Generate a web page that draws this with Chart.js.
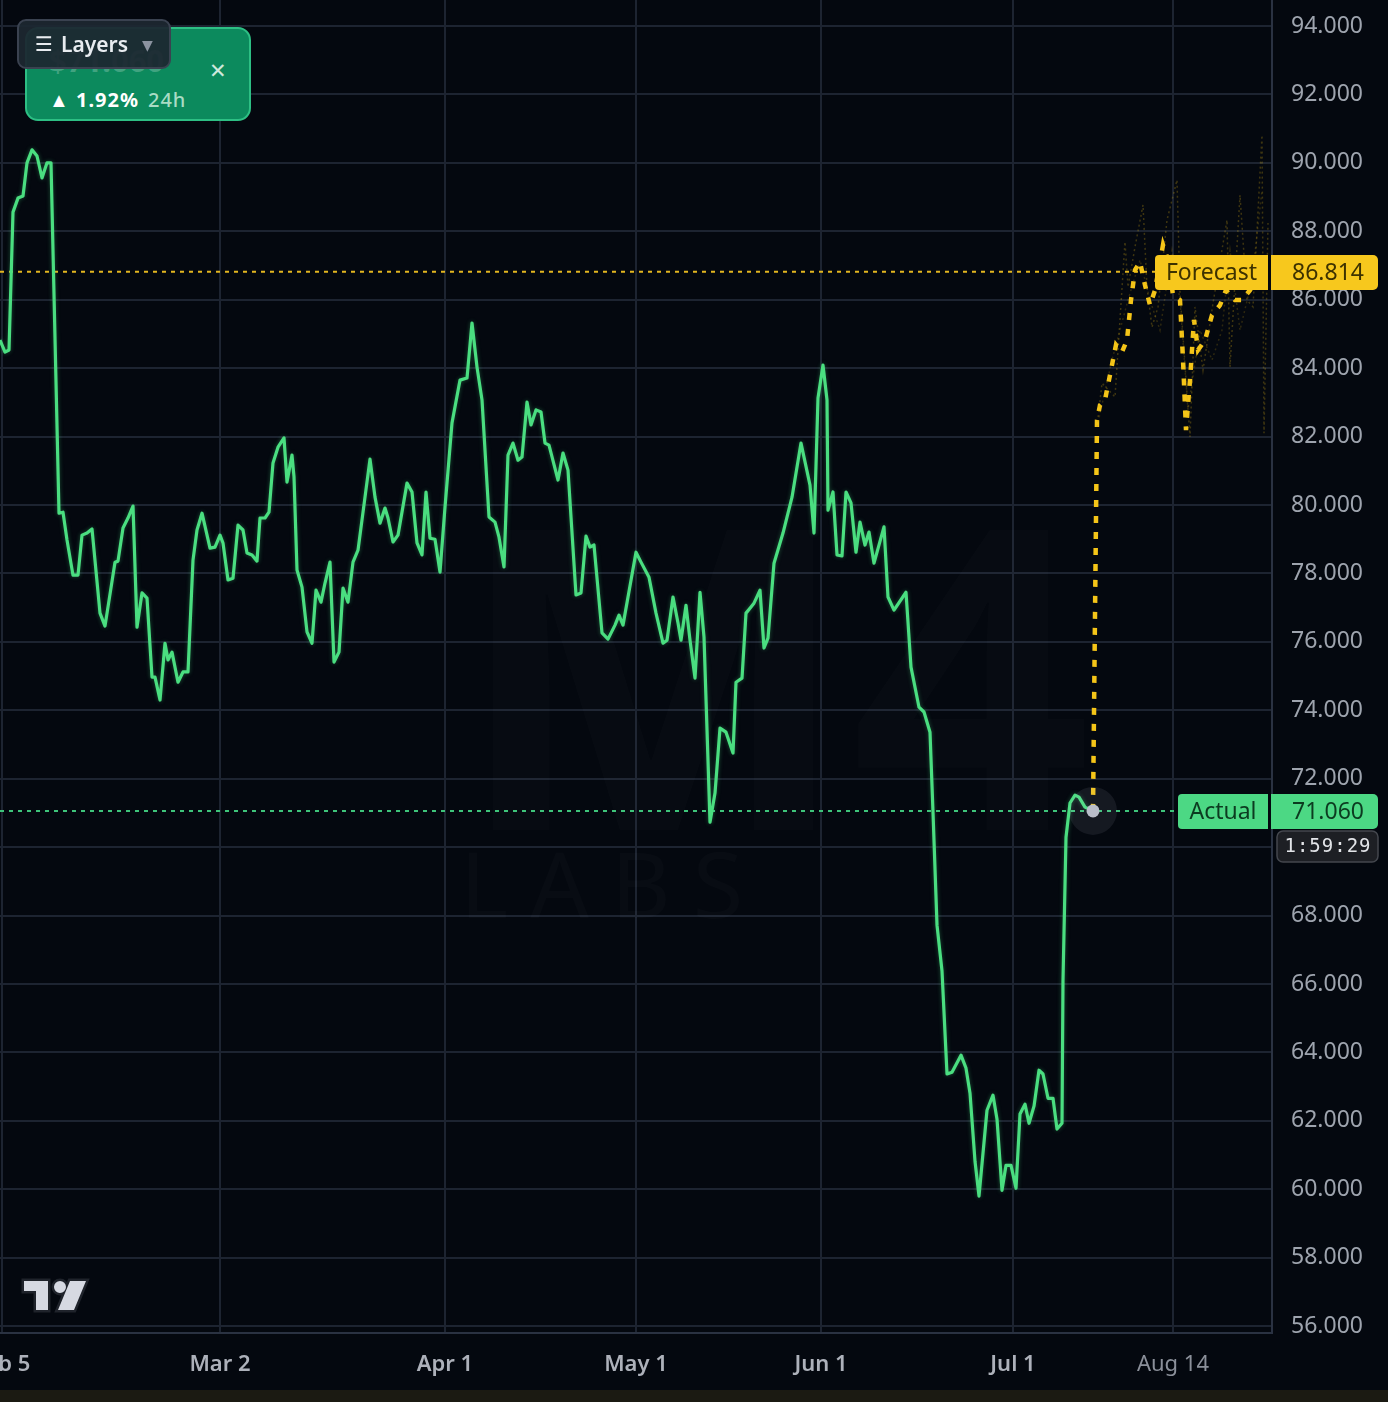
<!DOCTYPE html>
<html>
<head>
<meta charset="utf-8">
<title>Actual vs Forecast</title>
<script src="https://cdn.jsdelivr.net/npm/chart.js@4.4.1/dist/chart.umd.min.js"></script>
<style>
    body { margin: 0; background: #04080f; overflow: hidden; font-family: 'Noto Sans', sans-serif; }
    #wrap { position: relative; width: 1388px; height: 1402px; }
    #price_chart { position: absolute; left: 0; top: 0; }
    .card {
        position: absolute; left: 25px; top: 27px; width: 222px; height: 90px;
        background: #0c8a5d; border: 2px solid #2dbf84; border-radius: 13px;
    }
    .card .price { position: absolute; left: 22px; top: 10px; font-size: 31px; font-weight: 700; color: rgba(255,255,255,0.22); }
    .card .close { position: absolute; left: 182px; top: 32px; font-size: 21px; color: #cfe8dc; line-height: 1; font-family: 'DejaVu Sans', sans-serif; }
    .card .change { position: absolute; left: 22px; top: 57px; font-size: 20px; font-weight: 700; color: #ffffff; letter-spacing: 1px; }
    .card .change span { font-weight: 500; color: #a9dcc5; margin-left: 9px; }
    .layers {
        position: absolute; left: 17px; top: 19px; width: 150px; height: 46px;
        background: rgba(29, 39, 49, 0.94); border: 2px solid #3a4250; border-radius: 9px;
        color: #e8ecf0; font-size: 21px; font-weight: 600; line-height: 46px;
    }
    .layers .burger { position: absolute; left: 16px; top: 0; font-family: 'DejaVu Sans', sans-serif; font-size: 20px; }
    .layers .txt { position: absolute; left: 42px; top: 0; }
    .layers .arrow { position: absolute; left: 123px; top: 1px; font-size: 14px; color: #8b93a0; font-family: 'DejaVu Sans', sans-serif; }
</style>
</head>
<body>
<div id="wrap">
    <canvas id="price_chart" width="1388" height="1402"></canvas>
    <div class="card">
        <div class="price">$71.060</div>
        <div class="close">✕</div>
        <div class="change">▲ 1.92%<span>24h</span></div>
    </div>
    <div class="layers"><span class="burger">☰</span><span class="txt">Layers</span><span class="arrow">▼</span></div>
</div>
<script>
// x positions are bar indexes (one bar = one step of the time axis)
const tickIdx = [0.4, 44, 89, 127.2, 164.2, 202.6, 234.6];
const tickLabels = ['Feb 5', 'Mar 2', 'Apr 1', 'May 1', 'Jun 1', 'Jul 1', 'Aug 14'];
const priceTicks = [56, 58, 60, 62, 64, 66, 68, 70, 72, 74, 76, 78, 80, 82, 84, 86, 88, 90, 92, 94];

const actualIdx = [0, 1, 1.8, 2.6, 3.6, 4.6, 5.4, 6.4, 7.4, 8.4, 9.4, 10.2, 11.8, 12.6, 13.4, 14.6, 15.6, 16.4, 17.4, 18.4,
    20, 21, 23, 23.6, 24.6, 25.6, 26.6, 27.4, 28.4, 29.4, 30.4, 31, 32, 33, 33.6, 34.4, 35.6, 36.6, 37.6, 38.6,
    39.4, 40.4, 42, 43, 44, 44.6, 45.6, 46.6, 47.6, 48.6, 49.4, 50.4, 51.4, 52, 53, 53.8, 54.6, 55.6, 56.8, 57.4,
    58.4, 58.8, 59.4, 60.4, 61.4, 62.4, 63.2, 64.2, 65, 66, 66.8, 67.8, 68.6, 69.6, 70.6, 71.6, 73, 74, 75, 76,
    77, 77.6, 78.6, 79.6, 81.4, 82.4, 83.4, 84.4, 85.2, 86, 87, 88, 89, 90.4, 92, 93.4, 94.4, 95.4, 96.4, 97.8,
    99, 99.8, 100.8, 101.6, 102.6, 103.6, 104.4, 105.4, 106.2, 107.2, 108.2, 109, 109.8, 111.6, 112.6, 113.6, 115.2, 116.2, 117.2, 118,
    118.8, 120.4, 121.6, 123, 123.8, 124.6, 127.2, 128.2, 129.8, 131.2, 132.6, 133.4, 134.6, 135.6, 136.2, 137.2, 138, 139, 140, 140.8,
    142, 143, 144, 145.2, 146.6, 147.2, 148.4, 149.2, 150.2, 150.8, 152, 152.8, 153.6, 154.8, 156.6, 158.4, 160.2, 162, 162.8, 163.6,
    164.6, 165.4, 165.6, 166.6, 167.4, 168.4, 169.2, 170.2, 171.2, 172, 173, 173.8, 174.8, 176.8, 177.6, 178.8, 181.2, 182.2, 183.8, 184.8,
    186, 186.6, 187.4, 188.4, 189.4, 190.4, 192.2, 193.2, 194, 195, 195.8, 197.4, 198.6, 199.4, 200.4, 201.2, 202.2, 203.2, 204, 205,
    205.8, 206.8, 207.8, 208.6, 209.6, 210.6, 211.4, 212.4, 212.6, 213.2, 214, 215, 215.8, 217, 218.6];
const actualVal = [84.82, 84.47, 84.53, 88.56, 88.97, 89.03, 90.00, 90.38, 90.20, 89.56, 90.00, 90.00, 79.76, 79.79, 78.98, 77.95, 77.95, 79.12, 79.18, 79.30,
    76.84, 76.46, 78.33, 78.36, 79.33, 79.62, 79.97, 76.43, 77.43, 77.28, 74.97, 74.97, 74.30, 75.96, 75.47, 75.70, 74.82, 75.12, 75.12, 78.39,
    79.27, 79.76, 78.74, 78.77, 79.12, 78.89, 77.81, 77.86, 79.41, 79.27, 78.60, 78.54, 78.36, 79.62, 79.62, 79.79, 81.23, 81.69, 81.96, 80.67,
    81.46, 80.82, 78.10, 77.60, 76.29, 75.96, 77.51, 77.16, 77.72, 78.33, 75.41, 75.70, 77.57, 77.16, 78.33, 78.68, 80.23, 81.34, 80.23, 79.47,
    79.91, 79.62, 78.92, 79.12, 80.64, 80.38, 78.89, 78.54, 80.38, 79.03, 79.00, 78.04, 79.94, 82.40, 83.65, 83.71, 85.32, 84.03, 83.07, 79.65,
    79.50, 79.06, 78.19, 81.46, 81.81, 81.31, 81.40, 83.01, 82.34, 82.78, 82.72, 81.81, 81.75, 80.73, 81.52, 81.02, 77.37, 77.43, 79.09, 78.77,
    78.83, 76.26, 76.08, 76.49, 76.78, 76.49, 78.62, 78.33, 77.89, 76.84, 75.96, 76.05, 77.31, 76.55, 76.05, 77.07, 76.05, 74.94, 77.45, 76.14,
    70.73, 71.58, 73.48, 73.36, 72.75, 74.82, 74.94, 76.84, 77.02, 77.13, 77.51, 75.82, 76.11, 78.30, 79.18, 80.23, 81.81, 80.58, 79.18, 83.13,
    84.09, 83.07, 79.85, 80.38, 78.54, 78.51, 80.38, 80.06, 78.62, 79.50, 78.83, 79.21, 78.30, 79.36, 77.31, 76.93, 77.45, 75.26, 74.09, 73.95,
    73.36, 71.02, 67.72, 66.38, 63.37, 63.42, 63.92, 63.54, 62.81, 60.82, 59.80, 62.31, 62.75, 62.05, 59.97, 60.70, 60.70, 60.03, 62.20, 62.49,
    61.93, 62.43, 63.48, 63.37, 62.66, 62.66, 61.76, 61.93, 66.11, 70.29, 71.29, 71.52, 71.46, 71.17, 71.06];

const forecastIdx = [218.6, 219.4, 220, 221, 222, 223.2, 224.4, 225.4, 226.2, 227, 228, 229, 230, 231, 232.6, 233.6, 234.6, 236, 236.6, 237.2,
    238, 238.8, 239.6, 241, 242.4, 244, 245.2, 247, 248.4, 250, 252];
const forecastVal = [71.06, 82.48, 82.92, 83.07, 83.80, 84.68, 84.47, 84.82, 85.99, 86.87, 87.10, 86.43, 85.84, 86.28, 87.60, 87.16, 86.14, 85.99, 84.24, 82.19,
    83.65, 85.41, 84.53, 84.82, 85.55, 85.84, 86.28, 85.99, 85.99, 86.28, 86.81];

const altAIdx = [219.4, 220.4, 223, 225, 225.6, 227, 228.6, 229.4, 230.4, 231.6, 233.4, 235.4, 236, 238, 239, 240.6, 242.6, 245.4, 246, 248,
    249.4, 250.6, 252.4, 252.8, 253.6];
const altAVal = [82.28, 83.56, 83.16, 87.69, 86.37, 87.54, 88.77, 86.37, 85.20, 85.79, 88.33, 89.50, 86.20, 81.99, 85.79, 83.94, 85.90, 88.33, 84.03, 89.06,
    85.99, 85.79, 90.81, 82.10, 88.24];
const altBIdx = [219.4, 222.4, 225.6, 228, 230, 232, 234.4, 236, 237.6, 240, 242.4, 244.4, 246, 248, 250.4, 252.4];
const altBVal = [82.28, 84.24, 85.99, 87.16, 85.99, 85.11, 87.45, 85.99, 82.78, 85.11, 84.24, 85.11, 87.45, 85.11, 86.58, 89.21];

const actualLast = 71.060;
const forecastLast = 86.814;
const countdown = '1:59:29';

function toPoints(xs, ys) {
    return xs.map((x, i) => ({ x: x, y: ys[i] }));
}

function roundRect(ctx, x, y, w, h, r) {
    ctx.beginPath();
    ctx.roundRect(x, y, w, h, r);
    ctx.fill();
}

function priceTag(ctx, y, name, value, bg, fg, nameLeft) {
    let top = Math.round(y - 17);
    ctx.fillStyle = bg;
    roundRect(ctx, nameLeft, top, 1268 - nameLeft, 35, [4, 0, 0, 4]);
    roundRect(ctx, 1271, top, 107, 35, [0, 5, 5, 0]);
    ctx.fillStyle = fg;
    ctx.font = '23px "Noto Sans"';
    ctx.textBaseline = 'middle';
    ctx.textAlign = 'center';
    ctx.fillText(name, (nameLeft + 1268) / 2, top + 18);
    ctx.fillText(value.toFixed(3), 1328, top + 18);
}

const overlay = {
    id: 'overlay',
    beforeDraw(chart) {
        let ctx = chart.ctx;
        ctx.save();
        ctx.fillStyle = '#04080f';
        ctx.fillRect(0, 0, chart.width, chart.height);
        ctx.fillStyle = '#1b1a12';
        ctx.fillRect(0, 1390, chart.width, 12);
        ctx.restore();
    },
    beforeDatasetsDraw(chart) {
        let ctx = chart.ctx;
        let y = chart.scales.y;
        ctx.save();
        // faint watermark
        ctx.fillStyle = 'rgba(255,255,255,0.014)';
        ctx.font = 'bold 420px "Noto Sans"';
        ctx.textBaseline = 'alphabetic';
        ctx.fillText('M4', 455, 830);
        ctx.fillStyle = 'rgba(255,255,255,0.02)';
        ctx.font = '92px "Noto Sans"';
        ctx.letterSpacing = '22px';
        ctx.fillText('LABS', 460, 918);
        ctx.letterSpacing = '0px';
        // last value lines
        ctx.lineWidth = 2;
        ctx.setLineDash([4, 5]);
        ctx.strokeStyle = '#e3b620';
        let yf = y.getPixelForValue(forecastLast);
        ctx.beginPath();
        ctx.moveTo(0, yf);
        ctx.lineTo(1155, yf);
        ctx.stroke();
        ctx.strokeStyle = '#3ec47a';
        let ya = y.getPixelForValue(actualLast);
        ctx.beginPath();
        ctx.moveTo(0, ya);
        ctx.lineTo(1178, ya);
        ctx.stroke();
        ctx.restore();
    },
    beforeDatasetDraw(chart, args) {
        if (args.meta.label === 'Actual') {
            chart.ctx.save();
            chart.ctx.shadowColor = 'rgba(74, 222, 128, 0.35)';
            chart.ctx.shadowBlur = 4;
        }
    },
    afterDatasetDraw(chart, args) {
        if (args.meta.label === 'Actual') {
            chart.ctx.restore();
        }
    },
    afterDraw(chart) {
        let ctx = chart.ctx;
        let x = chart.scales.x;
        let y = chart.scales.y;
        ctx.save();
        // end point marker
        let px = x.getPixelForValue(actualIdx[actualIdx.length - 1]);
        let py = y.getPixelForValue(actualLast);
        ctx.fillStyle = 'rgba(200,205,220,0.09)';
        ctx.beginPath();
        ctx.arc(px, py, 24, 0, Math.PI * 2);
        ctx.fill();
        ctx.fillStyle = '#b9bdc9';
        ctx.beginPath();
        ctx.arc(px, py, 6.5, 0, Math.PI * 2);
        ctx.fill();

        priceTag(ctx, y.getPixelForValue(forecastLast), 'Forecast', forecastLast, '#f7c81d', '#3d3200', 1155);
        priceTag(ctx, y.getPixelForValue(actualLast), 'Actual', actualLast, '#4cd884', '#0c3b20', 1178);

        // countdown
        let ty = Math.round(y.getPixelForValue(actualLast)) + 20;
        ctx.fillStyle = '#1d1f24';
        ctx.strokeStyle = '#44474e';
        ctx.lineWidth = 1.5;
        ctx.beginPath();
        ctx.roundRect(1277, ty, 101, 31, 6);
        ctx.fill();
        ctx.stroke();
        ctx.fillStyle = '#e2e4e8';
        ctx.font = '19px "DejaVu Sans Mono"';
        ctx.letterSpacing = '1px';
        ctx.textAlign = 'center';
        ctx.textBaseline = 'middle';
        ctx.fillText(countdown, 1328, ty + 16);
        ctx.letterSpacing = '0px';

        // TradingView logo
        ctx.beginPath();
        ctx.rect(24, 1281, 24, 10);
        ctx.rect(36, 1281, 12, 29);
        ctx.moveTo(66, 1287);
        ctx.arc(60, 1287, 6, 0, Math.PI * 2);
        ctx.moveTo(70, 1281);
        ctx.lineTo(86, 1281);
        ctx.lineTo(74, 1310);
        ctx.lineTo(58, 1310);
        ctx.closePath();
        ctx.strokeStyle = '#1f232b';
        ctx.lineWidth = 5;
        ctx.stroke();
        ctx.fillStyle = '#d6d9e2';
        ctx.fill();
        ctx.restore();
    }
};

let canvas = document.querySelector('#price_chart');
new Chart(canvas, {
    type: 'line',
    data: {
        datasets: [{
            label: 'Alt forecast A',
            data: toPoints(altAIdx, altAVal),
            borderColor: 'rgba(214, 172, 22, 0.28)',
            borderWidth: 1.5,
            borderDash: [2, 3],
            pointRadius: 0
        }, {
            label: 'Alt forecast B',
            data: toPoints(altBIdx, altBVal),
            borderColor: 'rgba(214, 172, 22, 0.2)',
            borderWidth: 1.5,
            borderDash: [2, 3],
            pointRadius: 0
        }, {
            label: 'Forecast',
            data: toPoints(forecastIdx, forecastVal),
            borderColor: '#f5c518',
            borderWidth: 4.5,
            borderDash: [7, 9],
            pointRadius: 0
        }, {
            label: 'Actual',
            data: toPoints(actualIdx, actualVal),
            borderColor: '#4ade80',
            borderWidth: 3.2,
            pointRadius: 0,
            borderJoinStyle: 'round'
        }]
    },
    options: {
        responsive: false,
        animation: false,
        devicePixelRatio: 1,
        layout: { padding: 0 },
        plugins: {
            legend: { display: false },
            tooltip: { enabled: false }
        },
        scales: {
            x: {
                type: 'linear',
                position: 'bottom',
                min: 0,
                max: 254.4,
                afterBuildTicks: (scale) => {
                    scale.ticks = tickIdx.map(v => ({ value: v }));
                },
                afterFit: (scale) => {
                    scale.height = 69;
                    scale.paddingLeft = 0;
                    scale.paddingRight = 0;
                },
                grid: { color: '#1d2431', lineWidth: 2, drawTicks: false },
                border: { color: '#2a3242', width: 2 },
                ticks: {
                    autoSkip: false,
                    maxRotation: 0,
                    padding: 19,
                    callback: (value, index) => tickLabels[index],
                    color: (ctx) => ctx.index === 6 ? '#8b909a' : '#adb1ba',
                    font: (ctx) => ({ family: 'Noto Sans', size: 22, weight: ctx.index === 6 ? 'normal' : '600' })
                }
            },
            y: {
                type: 'linear',
                position: 'right',
                min: 55.8,
                max: 94.76,
                afterBuildTicks: (scale) => {
                    scale.ticks = priceTicks.map(v => ({ value: v }));
                },
                afterFit: (scale) => {
                    scale.width = 116;
                    scale.paddingTop = 0;
                    scale.paddingBottom = 0;
                },
                grid: { color: '#1d2431', lineWidth: 2, drawTicks: false },
                border: { color: '#2a3242', width: 2 },
                ticks: {
                    padding: 19,
                    color: '#9ea4ae',
                    font: { family: 'Noto Sans', size: 23 },
                    callback: (value) => Number(value).toFixed(3)
                }
            }
        }
    },
    plugins: [overlay]
});
</script>
</body>
</html>
